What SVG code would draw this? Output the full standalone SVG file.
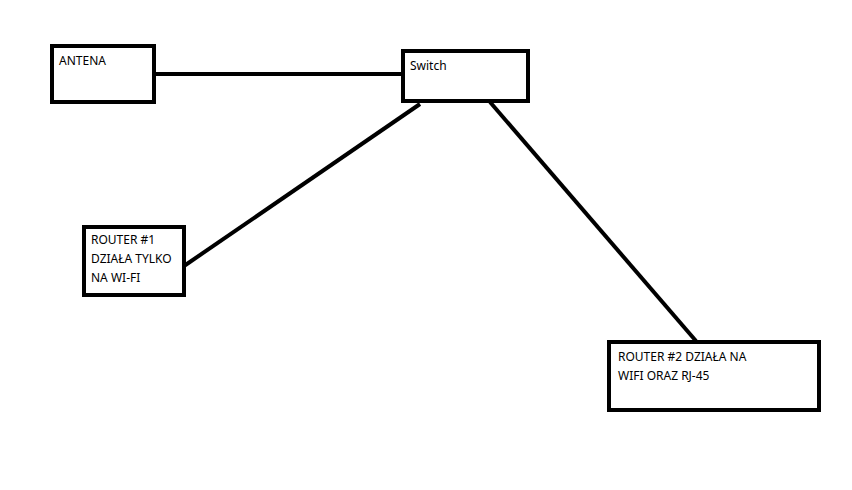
<svg xmlns="http://www.w3.org/2000/svg" width="852" height="490" viewBox="0 0 852 490">
<style>
.box{fill:#fff;stroke:#000;stroke-width:4}
.ln{stroke:#000;stroke-width:4;fill:none}
text{font-family:"Noto Sans","Open Sans",sans-serif;font-size:12px;fill:#000}
</style>
<rect width="852" height="490" fill="#fff"/>
<g id="connectors">
<line class="ln" x1="154" y1="74" x2="403" y2="74"/>
<line class="ln" x1="420" y1="104" x2="184" y2="266"/>
<line class="ln" x1="490" y1="102" x2="696" y2="341"/>
</g>
<g id="antena"><rect class="box" x="52" y="46" width="102" height="56"/><text x="59" y="65">ANTENA</text></g>
<g id="switch"><rect class="box" x="403" y="51" width="125" height="50"/><text x="410" y="70">Switch</text></g>
<g id="router1"><rect class="box" x="84" y="227" width="100" height="68"/><text x="91" y="244">ROUTER #1</text><text x="91" y="263">DZIAŁA TYLKO</text><text x="91" y="282">NA WI-FI</text></g>
<g id="router2"><rect class="box" x="609" y="342" width="210" height="68"/><text x="618" y="361">ROUTER #2 DZIAŁA NA</text><text x="618" y="380">WIFI ORAZ RJ-45</text></g>
</svg>
